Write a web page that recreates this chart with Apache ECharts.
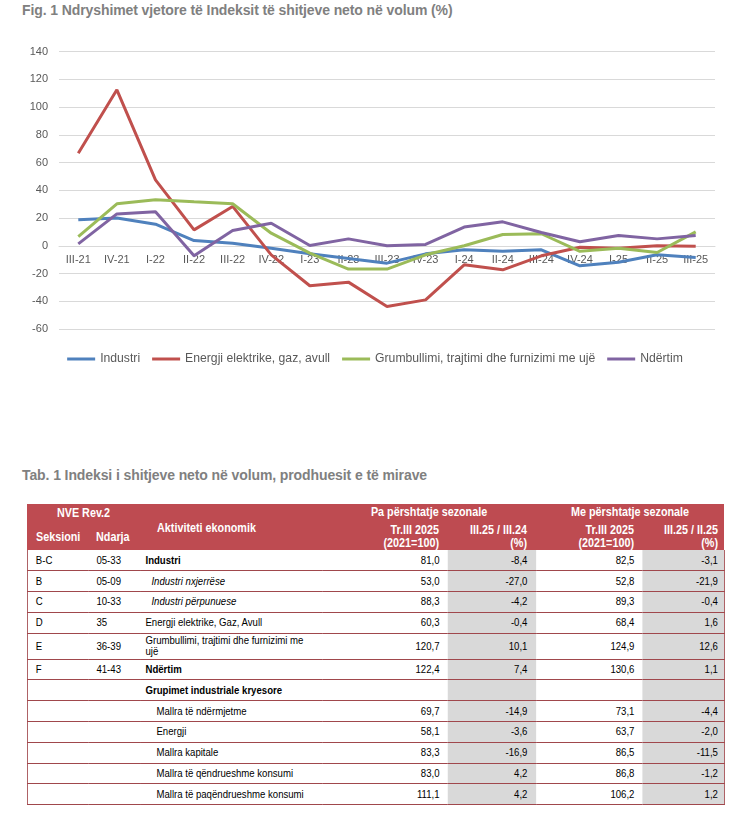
<!DOCTYPE html>
<html>
<head>
<meta charset="utf-8">
<script src="https://cdn.jsdelivr.net/npm/echarts@6/dist/echarts.min.js"></script>
<style>
  html, body { margin: 0; padding: 0; background: #fff; }
  body { width: 750px; height: 813px; position: relative; overflow: hidden; }
  .title { position: absolute; left: 22px; font: bold 14px 'Liberation Sans', Arial, sans-serif; color: #808080; white-space: nowrap; letter-spacing: -0.1px; }
  #chart { position: absolute; left: 0; top: 0; width: 750px; height: 380px; }
  #tbl { position: absolute; left: 27px; top: 504px; width: 820px; transform: scaleX(0.85); transform-origin: 0 0; font-family: 'Liberation Sans', Arial, sans-serif; }
  #hdr { position: relative; height: 46px; background: #be4b51; color: #fff; font-weight: bold; font-size: 12.7px; }
  #hdr span { position: absolute; white-space: nowrap; line-height: 14px; }
  table { border-collapse: collapse; table-layout: fixed; width: 820px; font-size: 11.3px; color: #000; }
  td { border-bottom: 1px solid #a0474c; padding: 0; white-space: nowrap; vertical-align: middle; line-height: 11px; }
  tr { height: 20.8px; }
  td.l0 { border-left: 1px solid #a0474c; padding-left: 9.4px; }
  td.l1 { padding-left: 9.4px; }
  td.l2 { padding-left: 5.9px; }
  td.num { text-align: right; padding-right: 9.4px; }
  td.g { background: #d9d9d9; }
  td.last { border-right: 1px solid #a0474c; padding-right: 7.1px; }
</style>
</head>
<body>
<div class="title" style="top:2px">Fig. 1 Ndryshimet vjetore të Indeksit të shitjeve neto në volum (%)</div>
<div id="chart"></div>
<div class="title" style="top:467px">Tab. 1 Indeksi i shitjeve neto në volum, prodhuesit e të mirave</div>
<div id="tbl">
  <div id="hdr"></div>
  <table id="body"></table>
</div>
<script>
// ---- chart data ----
var categories = ['III-21','IV-21','I-22','II-22','III-22','IV-22','I-23','II-23','III-23','IV-23','I-24','II-24','III-24','IV-24','I-25','II-25','III-25'];
var industri   = [18.8, 20, 15.6, 3.8, 1.9, -1.7, -5.8, -9.1, -12.5, -5.8, -2.9, -4, -2.9, -14.4, -11.8, -6.5, -8.4];
var energji    = [66.8, 112.5, 47.6, 11.5, 28.4, -6.5, -28.8, -26.2, -43.8, -39, -13.7, -17.3, -7.2, -1, -1.7, 0, -0.4];
var grumbullimi= [6.7, 30.3, 33.2, 31.7, 30.3, 9.1, -5.3, -16.8, -16.8, -6.5, 0, 8.2, 8.7, -4, -1.7, -4.8, 10.1];
var ndertim    = [1.4, 23, 24.5, -7.2, 11, 16.3, 0.2, 5, 0, 1, 13.5, 17.3, 9.6, 2.9, 7.5, 5, 7.4];
var seriesNames = ['Industri', 'Energji elektrike, gaz, avull', 'Grumbullimi, trajtimi dhe furnizimi me ujë', 'Ndërtim'];
var yTicks = { min: -60, max: 140, interval: 20 };

// ---- table data ----
var sekt       = ['B-C','B','C','D','E','F','','','','','',''];
var ndarja     = ['05-33','05-09','10-33','35','36-39','41-43','','','','','',''];
var aktiviteti = ['Industri','Industri nxjerrëse','Industri përpunuese','Energji elektrike, Gaz, Avull','Grumbullimi, trajtimi dhe furnizimi me|ujë','Ndërtim','Grupimet industriale kryesore','Mallra të ndërmjetme','Energji','Mallra kapitale','Mallra të qëndrueshme konsumi','Mallra të paqëndrueshme konsumi'];
var indexNSA   = ['81,0','53,0','88,3','60,3','120,7','122,4','','69,7','58,1','83,3','83,0','111,1'];
var changeYoY  = ['-8,4','-27,0','-4,2','-0,4','10,1','7,4','','-14,9','-3,6','-16,9','4,2','4,2'];
var indexSA    = ['82,5','52,8','89,3','68,4','124,9','130,6','','73,1','63,7','86,5','86,8','106,2'];
var changeQoQ  = ['-3,1','-21,9','-0,4','1,6','12,6','1,1','','-4,4','-2,0','-11,5','-1,2','1,2'];

var colors = ['#4f81bd', '#c0504d', '#9bbb59', '#8064a2'];
var seriesData = [industri, energji, grumbullimi, ndertim];

var gridTop = 51.7, gridHeight = 277.3;
var zeroOffset = gridHeight * (0 - yTicks.min) / (yTicks.max - yTicks.min);

var chart = echarts.init(document.getElementById('chart'));
chart.setOption({
  animation: false,
  grid: { left: 59, right: 35, top: gridTop, height: gridHeight, containLabel: false },
  legend: {
    data: seriesNames, left: 'center', top: 348, itemWidth: 28, itemHeight: 3, itemGap: 12, icon: 'rect',
    textStyle: { color: '#595959', fontSize: 12.2, fontFamily: 'Liberation Sans' }
  },
  xAxis: {
    type: 'category', data: categories, boundaryGap: true,
    offset: -zeroOffset,
    axisLine: { onZero: false, lineStyle: { color: '#d9d9d9' } },
    axisTick: { show: false },
    axisLabel: { color: '#595959', fontSize: 11, fontFamily: 'Liberation Sans', margin: 9, interval: 0 }
  },
  yAxis: {
    type: 'value', min: yTicks.min, max: yTicks.max, interval: yTicks.interval,
    axisLine: { show: false }, axisTick: { show: false },
    splitLine: { lineStyle: { color: '#d9d9d9', width: 1 } },
    axisLabel: { color: '#595959', fontSize: 11, fontFamily: 'Liberation Sans', margin: 11 }
  },
  series: seriesNames.map(function (n, i) {
    return { name: n, type: 'line', data: seriesData[i], showSymbol: false, symbol: 'none', z: 5,
      itemStyle: { color: colors[i] }, lineStyle: { color: colors[i], width: 3 } };
  })
});

// ---- table header (coordinates in unscaled table space) ----
var hdr = document.getElementById('hdr');
function hs(text, style) { var s = document.createElement('span'); s.textContent = text; s.setAttribute('style', style); hdr.appendChild(s); }
hs('NVE Rev.2', 'left:0;width:133px;text-align:center;top:2px');
hs('Pa përshtatje sezonale', 'left:347px;width:252px;text-align:center;top:1px');
hs('Me përshtatje sezonale', 'left:599px;width:221px;text-align:center;top:1px');
hs('Seksioni', 'left:10.6px;top:26px');
hs('Ndarja', 'left:81.2px;top:26px');
hs('Aktiviteti ekonomik', 'left:153px;top:17px');
hs('Tr.III 2025', 'right:335.3px;top:19px');
hs('(2021=100)', 'right:335.3px;top:32px');
hs('III.25 / III.24', 'right:231.8px;top:19px');
hs('(%)', 'right:231.8px;top:32px');
hs('Tr.III 2025', 'right:105.9px;top:19px');
hs('(2021=100)', 'right:105.9px;top:32px');
hs('III.25 / II.25', 'right:7.1px;top:19px');
hs('(%)', 'right:7.1px;top:32px');

// ---- table body ----
var boldRows = { 0: 1, 5: 1, 6: 1 };
var italicRows = { 1: 1, 2: 1 };
var body = document.getElementById('body');
var cg = document.createElement('colgroup');
[71.8, 61.2, 214.1, 147.1, 104.7, 124.7, 96.4].forEach(function (w) { var c = document.createElement('col'); c.style.width = w + 'px'; cg.appendChild(c); });
body.appendChild(cg);
aktiviteti.forEach(function (a, i) {
  var tr = document.createElement('tr');
  if (a.indexOf('|') >= 0) tr.style.height = '26px';
  function td(cls, html) { var d = document.createElement('td'); d.className = cls; d.innerHTML = html; tr.appendChild(d); return d; }
  td('l0', sekt[i]);
  td('l1', ndarja[i]);
  var t = td('l2', a.replace('|', '<br>'));
  if (boldRows[i]) t.style.fontWeight = 'bold';
  if (italicRows[i]) { t.style.fontStyle = 'italic'; t.style.paddingLeft = '12.9px'; }
  if (i >= 7) t.style.paddingLeft = '18.8px';
  td('num', indexNSA[i]);
  td('num g', changeYoY[i]).style.paddingRight = '10.6px';
  td('num', indexSA[i]);
  td('num g last', changeQoQ[i]);
  body.appendChild(tr);
});
</script>
</body>
</html>
